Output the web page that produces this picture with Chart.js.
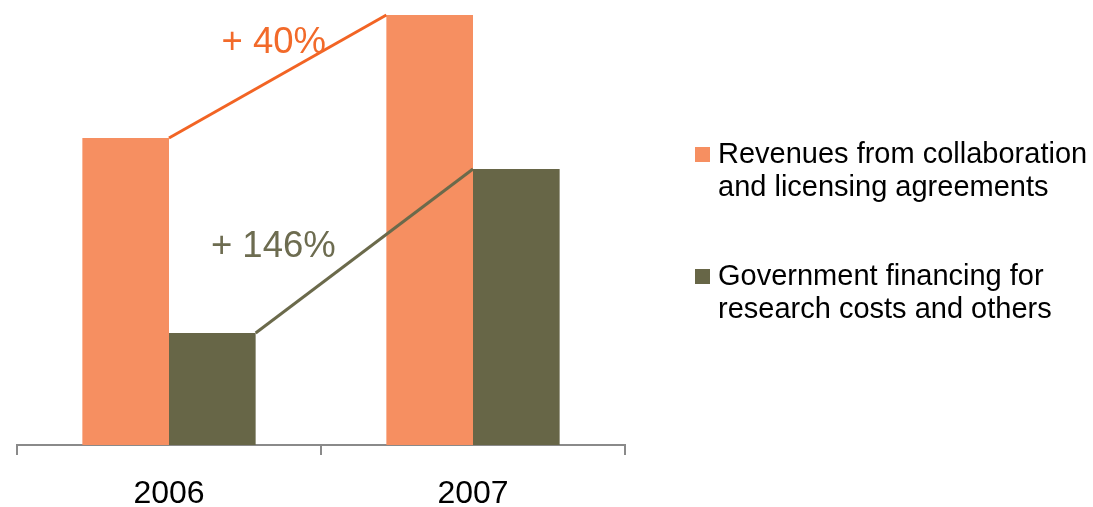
<!DOCTYPE html>
<html>
<head>
<meta charset="utf-8">
<script src="https://cdn.jsdelivr.net/npm/chart.js"></script>
<style>
  html, body { margin: 0; padding: 0; background: #fff; }
  #wrap { width: 1093px; height: 507px; }
</style>
</head>
<body>
<div id="wrap"><canvas id="chart" width="1093" height="507"></canvas></div>
<script>
// revenue breakdown, two years
const years = ['2006', '2007'];
const collaborationRevenues = [3.07, 4.30];
const governmentFinancing = [1.12, 2.76];
const seriesNames = [
  ['Revenues from collaboration', 'and licensing agreements'],
  ['Government financing for', 'research costs and others']
];

const ORANGE = '#F68F61';
const OLIVE = '#676647';
const FONT = '"Liberation Sans", Arial, sans-serif';

// growth line + "+ xx%" label between the two years of each series
const growthLines = {
  id: 'growthLines',
  afterDatasetsDraw(chart) {
    const ctx = chart.ctx;
    const styles = [
      { line: '#F26424', text: '#F26A2A', dx: -4, dy: -34 },
      { line: '#6B6A4B', text: '#6D6C50', dx: -91, dy: -4 }
    ];
    chart.data.datasets.forEach((ds, i) => {
      const bars = chart.getDatasetMeta(i).data;
      const a = bars[0], b = bars[1];
      const x0 = a.x + a.width / 2, y0 = a.y;
      const x1 = b.x - b.width / 2, y1 = b.y;
      ctx.save();
      ctx.strokeStyle = styles[i].line;
      ctx.lineWidth = 3;
      ctx.beginPath();
      ctx.moveTo(x0, y0);
      ctx.lineTo(x1, y1);
      ctx.stroke();
      const pct = Math.round((ds.data[1] / ds.data[0] - 1) * 100);
      ctx.fillStyle = styles[i].text;
      ctx.font = '36.5px ' + FONT;
      ctx.textAlign = 'center';
      ctx.textBaseline = 'middle';
      ctx.fillText('+ ' + pct + '%', (x0 + x1) / 2 + styles[i].dx, (y0 + y1) / 2 + styles[i].dy);
      ctx.restore();
    });
  }
};

// legend on the right with wrapped labels
const sideLegend = {
  id: 'sideLegend',
  afterDraw(chart) {
    const ctx = chart.ctx;
    const left = 695, textX = 718;
    const baselines = [163, 285];
    ctx.save();
    ctx.font = '29px ' + FONT;
    ctx.textBaseline = 'alphabetic';
    ctx.textAlign = 'left';
    chart.data.datasets.forEach((ds, i) => {
      const base = baselines[i];
      ctx.fillStyle = ds.backgroundColor;
      ctx.fillRect(left, base - 16, 15, 15);
      ctx.fillStyle = '#000';
      seriesNames[i].forEach((line, k) => ctx.fillText(line, textX, base + k * 33));
    });
    ctx.restore();
  }
};

new Chart(document.getElementById('chart'), {
  type: 'bar',
  data: {
    labels: years,
    datasets: [
      { label: seriesNames[0].join(' '), data: collaborationRevenues, backgroundColor: ORANGE },
      { label: seriesNames[1].join(' '), data: governmentFinancing, backgroundColor: OLIVE }
    ]
  },
  options: {
    responsive: false,
    animation: false,
    events: [],
    layout: { padding: { top: 15, left: 17, right: 468, bottom: 0 } },
    categoryPercentage: 0.57,
    barPercentage: 1,
    plugins: { legend: { display: false }, tooltip: { enabled: false } },
    scales: {
      x: {
        grid: { drawOnChartArea: false, drawTicks: true, tickLength: 10, color: '#8A8A8A', lineWidth: 2 },
        border: { color: '#8A8A8A', width: 2 },
        ticks: { color: '#000', font: { family: FONT, size: 32 }, padding: 20 },
        afterFit(scale) { scale.height = 62; }
      },
      y: {
        display: false,
        min: 0,
        max: Math.max(...collaborationRevenues)
      }
    }
  },
  plugins: [growthLines, sideLegend]
});
</script>
</body>
</html>
